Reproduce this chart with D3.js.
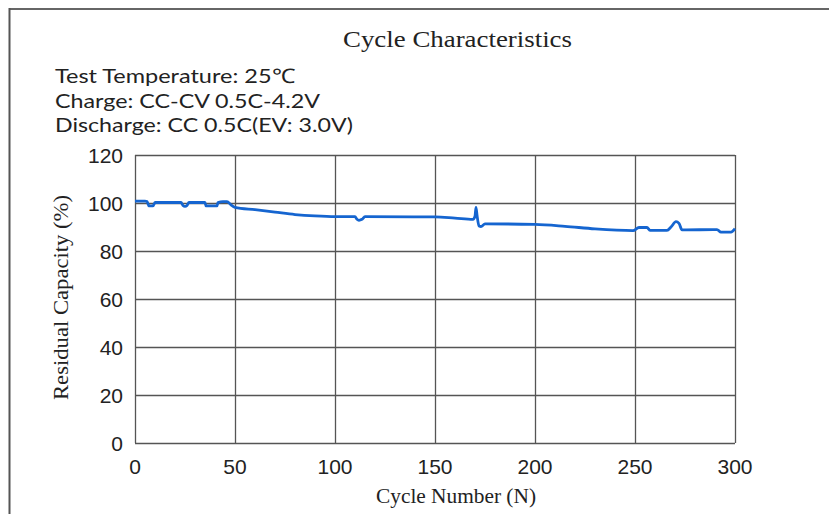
<!DOCTYPE html>
<html>
<head>
<meta charset="utf-8">
<script src="https://cdn.jsdelivr.net/npm/d3@7"></script>
<style>
  body { margin: 0; background: #fff; }
</style>
</head>
<body>
<div id="chart"></div>
<script>
// cycle number and residual capacity (%)
let cycles   = [0, 5, 6, 7, 9, 10, 23, 24, 25, 26, 27, 35, 35.5, 41, 41.5, 44, 46, 48, 50, 60, 70, 80, 90, 100,
                110, 111, 112, 113.5, 115, 150, 160, 169, 170, 170.5, 171, 172, 173, 175, 200, 215, 230, 249,
                252, 256, 257.5, 266, 268, 270.5, 272, 273.5, 291, 293, 298, 300]
let capacity = [100.8, 100.8, 100.6, 98.8, 98.8, 100.2, 100.2, 99.0, 98.6, 99.0, 100.2, 100.2, 98.8, 98.8, 100.2, 100.6, 100.6, 99.2, 98.2, 97.2, 96.2, 95.2, 94.6, 94.3,
                94.3, 93.2, 92.8, 93.2, 94.3, 94.2, 93.7, 93.2, 94.5, 98.2, 95, 90.4, 90.2, 91.3, 91.1, 90.3, 89.2, 88.5,
                89.8, 89.8, 88.6, 88.6, 90, 92.2, 91.5, 88.8, 88.9, 87.9, 87.9, 89.3]

let xTicks = [0, 50, 100, 150, 200, 250, 300]
let yTicks = [0, 20, 40, 60, 80, 100, 120]

let notes = ['Test Temperature: 25\u2103', 'Charge: CC-CV 0.5C-4.2V', 'Discharge: CC 0.5C(EV: 3.0V)']
let noteWidths = [240, 265, 298]

let width = 829, height = 514

let svg = d3.select('#chart').append('svg')
    .attr('width', width)
    .attr('height', height)

// outer frame (top and left edges only)
svg.append('line')
    .attr('x1', 9).attr('x2', width).attr('y1', 9).attr('y2', 9)
    .attr('stroke', '#666').attr('stroke-width', 2)
svg.append('line')
    .attr('x1', 9.5).attr('x2', 9.5).attr('y1', 8).attr('y2', height)
    .attr('stroke', '#555').attr('stroke-width', 2)

let x = d3.scaleLinear().domain([0, 300]).range([135, 735])
let y = d3.scaleLinear().domain([0, 120]).range([443, 155])

let sans = 'Liberation Sans, Arial, sans-serif'
let serif = 'Liberation Serif, Times New Roman, serif'

// grid
svg.append('g')
    .selectAll('line')
    .data(yTicks)
    .enter()
    .append('line')
    .attr('x1', x(0)).attr('x2', x(300))
    .attr('y1', d => y(d) + 0.5).attr('y2', d => y(d) + 0.5)
    .attr('stroke', '#555').attr('stroke-width', 1.3)

svg.append('g')
    .selectAll('line')
    .data(xTicks)
    .enter()
    .append('line')
    .attr('x1', d => x(d) + 0.5).attr('x2', d => x(d) + 0.5)
    .attr('y1', y(120)).attr('y2', y(0))
    .attr('stroke', '#555').attr('stroke-width', 1.3)

// tick labels
svg.append('g')
    .selectAll('text')
    .data(yTicks)
    .enter()
    .append('text')
    .attr('x', 123)
    .attr('y', d => y(d) + 8)
    .attr('text-anchor', 'end')
    .attr('font-family', sans)
    .attr('font-size', 21)
    .attr('fill', '#222')
    .text(d => d)

svg.append('g')
    .selectAll('text')
    .data(xTicks)
    .enter()
    .append('text')
    .attr('x', d => x(d))
    .attr('y', 474)
    .attr('text-anchor', 'middle')
    .attr('font-family', sans)
    .attr('font-size', 21)
    .attr('fill', '#222')
    .text(d => d)

// data line
let points = cycles.map((c, i) => ({ c: c, v: capacity[i] }))

svg.append('path')
    .datum(points)
    .attr('fill', 'none')
    .attr('stroke', '#1565d0')
    .attr('stroke-width', 2.8)
    .attr('stroke-linejoin', 'round')
    .attr('d', d3.line()
        .curve(d3.curveMonotoneX)
        .x(d => x(d.c))
        .y(d => y(d.v)))

// title
svg.append('text')
    .attr('x', 343)
    .attr('y', 47)
    .attr('font-family', serif)
    .attr('font-size', 23)
    .attr('textLength', 229)
    .attr('lengthAdjust', 'spacingAndGlyphs')
    .attr('fill', '#222')
    .text('Cycle Characteristics')

// test conditions
svg.append('g')
    .selectAll('text')
    .data(notes)
    .enter()
    .append('text')
    .attr('x', 55)
    .attr('y', (d, i) => 83 + i * 24.5)
    .attr('font-family', 'Lato, sans-serif')
    .attr('font-size', 20)
    .attr('textLength', (d, i) => noteWidths[i])
    .attr('lengthAdjust', 'spacingAndGlyphs')
    .attr('fill', '#222')
    .text(d => d)

// axis titles
svg.append('text')
    .attr('x', 376)
    .attr('y', 503)
    .attr('font-family', serif)
    .attr('font-size', 20)
    .attr('textLength', 160)
    .attr('lengthAdjust', 'spacingAndGlyphs')
    .attr('fill', '#222')
    .text('Cycle Number (N)')

svg.append('text')
    .attr('transform', 'translate(68,400) rotate(-90)')
    .attr('font-family', serif)
    .attr('font-size', 20)
    .attr('textLength', 205)
    .attr('lengthAdjust', 'spacingAndGlyphs')
    .attr('fill', '#222')
    .text('Residual Capacity  (%)')
</script>
</body>
</html>
